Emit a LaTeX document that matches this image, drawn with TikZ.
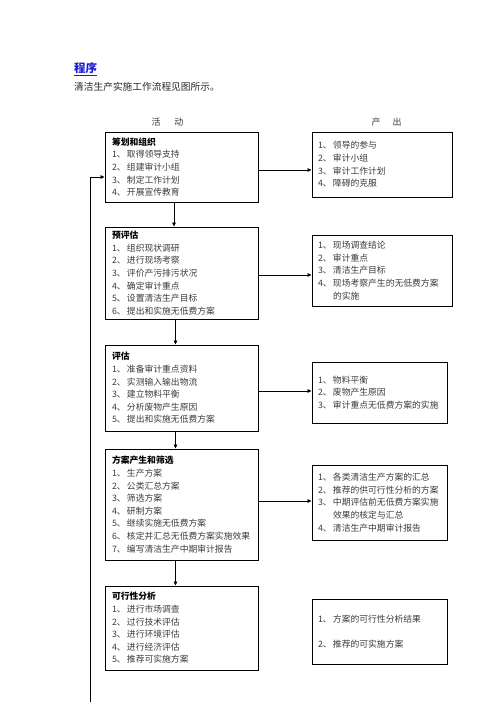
\documentclass[tikz,border=0pt]{standalone}
\usepackage{fontspec}
\setmainfont{Noto Sans CJK SC}
\usetikzlibrary{arrows.meta}
\definecolor{titleblue}{HTML}{1A1AD8}
\definecolor{itemgray}{HTML}{3A3A3A}
\newcommand{\nr}[1]{\makebox[15pt][l]{#1、}}
\newcommand{\nrgap}{\hspace*{15pt}}
\newcommand{\hd}[1]{{\bfseries\color{black}#1}}

\begin{document}
\begin{tikzpicture}[x=1pt, y=-1pt,
    act/.style  = {draw, line width=0.9pt, inner xsep=7pt, inner ysep=0pt,
                   minimum width=153pt, text width=139pt, align=left,
                   font=\fontsize{8.8}{12.6}\selectfont, text=itemgray},
    outp/.style = {draw, line width=0.9pt, inner xsep=6pt, inner ysep=0pt,
                   align=left, font=\fontsize{8.8}{12.6}\selectfont, text=itemgray},
    colhead/.style = {inner sep=0pt, font=\fontsize{9}{11}\selectfont, text=itemgray},
    flow/.style = {-{Triangle[length=4pt, width=3.6pt]}, line width=0.8pt},
]

% fixed canvas, 1pt = 1px of the reference
\useasboundingbox (0,0) rectangle (496,702);

% --- heading ----------------------------------------------------------
\node[anchor=west, inner sep=0pt, font=\fontsize{11.5}{13}\selectfont\bfseries,
      text=titleblue] (title) at (74,69) {\underline{程序}};
\node[anchor=west, inner sep=0pt, font=\fontsize{9.7}{12}\selectfont,
      text=black!85] (intro) at (74,87) {清洁生产实施工作流程见图所示。};

\node[colhead] (acthead) at (167.5,122) {活\hspace{14pt}动};
\node[colhead] (outhead) at (386.5,122) {产\hspace{12pt}出};

% --- activities --------------------------------------------------------
\node[act, minimum height=70pt] (plan) at (181.5,167)
  {\hd{筹划和组织}\\
   \nr{1}取得领导支持\\
   \nr{2}组建审计小组\\
   \nr{3}制定工作计划\\
   \nr{4}开展宣传教育};
\node[act, minimum height=92pt] (preeval) at (181.5,273)
  {\hd{预评估}\\
   \nr{1}组织现状调研\\
   \nr{2}进行现场考察\\
   \nr{3}评价产污排污状况\\
   \nr{4}确定审计重点\\
   \nr{5}设置清洁生产目标\\
   \nr{6}提出和实施无低费方案};
\node[act, minimum height=86pt] (eval) at (181.5,388)
  {\hd{评估}\\
   \nr{1}准备审计重点资料\\
   \nr{2}实测输入输出物流\\
   \nr{3}建立物料平衡\\
   \nr{4}分析废物产生原因\\
   \nr{5}提出和实施无低费方案};
\node[act, minimum height=111pt] (option) at (181.5,504.5)
  {\hd{方案产生和筛选}\\
   \nr{1}生产方案\\
   \nr{2}公类汇总方案\\
   \nr{3}筛选方案\\
   \nr{4}研制方案\\
   \nr{5}继续实施无低费方案\\
   \nr{6}核定并汇总无低费方案实施效果\\
   \nr{7}编写清洁生产中期审计报告};
\node[act, minimum height=84pt] (feasi) at (181.5,628)
  {\hd{可行性分析}\\
   \nr{1}进行市场调查\\
   \nr{2}过行技术评估\\
   \nr{3}进行环境评估\\
   \nr{4}进行经济评估\\
   \nr{5}推荐可实施方案};

% --- outputs -----------------------------------------------------------
\node[outp, text width=128pt, minimum height=65pt] (outplan) at (382,164.5)
  {\nr{1}领导的参与\\
   \nr{2}审计小组\\
   \nr{3}审计工作计划\\
   \nr{4}障碍的克服};
\node[outp, text width=128pt, minimum height=71pt] (outpre) at (382,270.5)
  {\nr{1}现场调查结论\\
   \nr{2}审计重点\\
   \nr{3}清洁生产目标\\
   \nr{4}现场考察产生的无低费方案\\
   \nrgap 的实施};
\node[outp, text width=123pt, minimum height=61pt] (outeval) at (379.5,392.5)
  {\nr{1}物料平衡\\
   \nr{2}废物产生原因\\
   \nr{3}审计重点无低费方案的实施};
\node[outp, text width=123pt, minimum height=75pt] (outopt) at (379.5,502.5)
  {\nr{1}各类清洁生产方案的汇总\\
   \nr{2}推荐的供可行性分析的方案\\
   \nr{3}中期评估前无低费方案实施\\
   \nrgap 效果的核定与汇总\\
   \nr{4}清洁生产中期审计报告};
\node[outp, text width=123pt, minimum height=65pt] (outfeas) at (379.5,631.5)
  {\nr{1}方案的可行性分析结果\\[12.6pt]
   \nr{2}推荐的可实施方案};

% --- flow down the activities ------------------------------------------
\draw[flow] ([xshift=-7.5pt]plan.south)   -- ([xshift=-7.5pt]preeval.north);
\draw[flow] ([xshift=-6pt]preeval.south)  -- ([xshift=-6pt]eval.north);
\draw[flow] ([xshift=-6pt]eval.south)     -- ([xshift=-6pt]option.north);
\draw[flow] ([xshift=-6pt]option.south)   -- ([xshift=-6pt]feasi.north);

% --- activity -> output ------------------------------------------------
\draw[flow] (plan.east |- 0,170)    -- (outplan.west |- 0,170);
\draw[flow] (preeval.east |- 0,275) -- (outpre.west |- 0,275);
\draw[flow] (eval.east |- 0,391)    -- (outeval.west |- 0,391);
\draw[flow] (option.east |- 0,501)  -- (outopt.west |- 0,501);

% --- feedback line on the left -----------------------------------------
\coordinate (loopfoot) at (90,705);
\draw[flow] (loopfoot) |- (plan.west |- 0,177);

\end{tikzpicture}
\end{document}
